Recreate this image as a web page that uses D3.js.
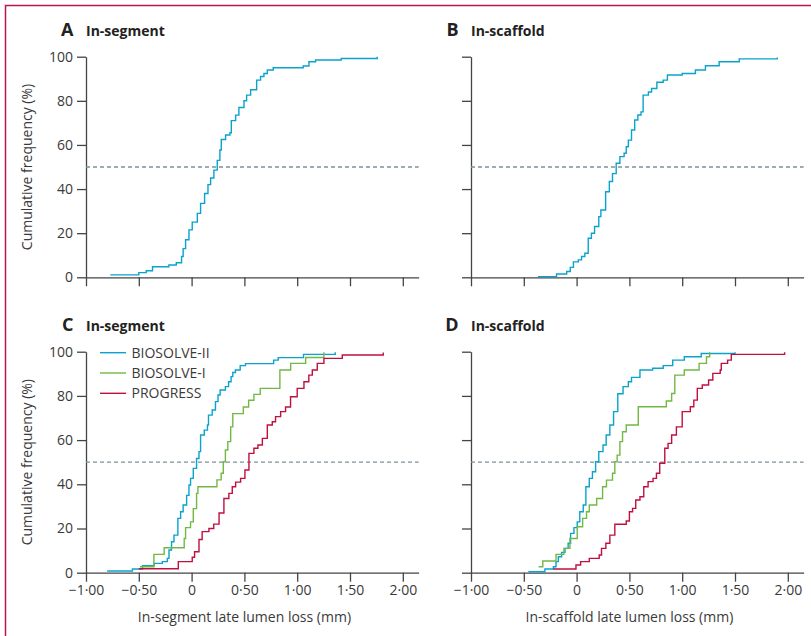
<!DOCTYPE html>
<html>
<head>
<meta charset="utf-8">
<script src="https://cdnjs.cloudflare.com/ajax/libs/d3/7.8.5/d3.min.js"></script>
<style>
  body { margin: 0; background: #fff; }
  svg text { font-family: "Open Sans", sans-serif; fill: #3a3a3a; }
</style>
</head>
<body>
<svg width="811" height="636"></svg>
<script>
// cumulative frequency curves: [late lumen loss (mm), cumulative %]
const aSegBiosolve2 = [[-0.77,1.1],[-0.50,2.1],[-0.43,3.0],[-0.37,4.8],[-0.215,5.6],[-0.145,6.6],[-0.095,9.4],[-0.08,13],[-0.057,17],[-0.025,21.5],[0.006,25],[0.054,29],[0.085,33.5],[0.123,38],[0.155,42],[0.18,45],[0.211,48.6],[0.243,53],[0.268,57.7],[0.281,62.5],[0.322,64.5],[0.363,65.5],[0.376,71],[0.417,73.5],[0.448,77],[0.496,80],[0.521,82.6],[0.559,85],[0.616,89.4],[0.653,91],[0.685,92.4],[0.717,94],[0.773,95],[1.057,95.8],[1.111,97.7],[1.174,98.5],[1.417,99.2],[1.758,100]];
const bScafBiosolve2 = [[-0.366,0.3],[-0.19,1.5],[-0.094,2.6],[-0.06,4.5],[-0.03,7],[0.016,7.9],[0.047,9.4],[0.078,10.9],[0.11,17.7],[0.14,20],[0.17,23],[0.21,27.5],[0.23,30.5],[0.275,38.8],[0.31,43.4],[0.34,47],[0.375,51.7],[0.41,54.7],[0.45,56.2],[0.47,59.2],[0.49,62.2],[0.52,66.8],[0.55,71.3],[0.58,73.6],[0.61,75],[0.63,82.6],[0.68,84],[0.71,85.6],[0.76,88.4],[0.82,89.4],[0.86,91.7],[1.0,92.4],[1.125,94],[1.22,95.9],[1.35,97.7],[1.54,99],[1.9,99.6]];
const cSegBiosolve2 = [[-0.80,0.8],[-0.56,1.7],[-0.465,3.2],[-0.355,4.2],[-0.277,5],[-0.23,6.5],[-0.214,10.3],[-0.19,14],[-0.167,17],[-0.13,24.6],[-0.104,27.6],[-0.08,30.6],[-0.047,35],[-0.025,39.7],[-0.01,42.7],[0.016,47.2],[0.047,51.7],[0.07,54.8],[0.085,62.3],[0.12,64.5],[0.15,66.8],[0.16,71.3],[0.195,73.6],[0.226,77.4],[0.25,80.4],[0.27,82.7],[0.32,84.2],[0.35,86.4],[0.374,88.7],[0.39,90.6],[0.415,91.7],[0.46,93.7],[0.51,94.6],[0.777,96.2],[0.82,97.3],[1.06,98.8],[1.36,99.7]];
const cSegBiosolve1 = [[-0.49,2.7],[-0.357,8.3],[-0.26,11.3],[-0.07,15.5],[-0.057,20.4],[-0.01,23],[0.016,29],[0.047,35.9],[0.06,38.9],[0.24,42],[0.28,45],[0.3,50.2],[0.32,55.5],[0.343,59.3],[0.37,66],[0.39,72],[0.49,75],[0.54,78],[0.59,80.7],[0.65,83.4],[0.836,91.7],[0.938,94.7],[1.08,97.4],[1.253,99.7]];
const cSegProgress = [[-0.5,1.8],[-0.126,5],[0.006,7],[0.028,9.5],[0.07,15],[0.1,18.6],[0.164,20],[0.21,22],[0.26,27],[0.306,33.6],[0.353,35.9],[0.385,38.9],[0.417,41],[0.464,42.7],[0.505,46.5],[0.543,54],[0.59,56.3],[0.628,57.8],[0.67,60.8],[0.717,66.8],[0.764,68.3],[0.795,70.6],[0.843,72.9],[0.89,75],[0.937,79.6],[1.0,83.4],[1.064,86.4],[1.11,89.4],[1.143,91.7],[1.19,94.7],[1.253,97],[1.427,98.5],[1.815,99.6]];
const dScafBiosolve2 = [[-0.457,0.45],[-0.3,1.7],[-0.22,2.7],[-0.195,5],[-0.173,7.2],[-0.142,9.2],[-0.11,11],[-0.08,13.3],[-0.057,17.8],[-0.025,20.4],[0.006,23],[0.03,27.6],[0.063,30.6],[0.088,38.9],[0.12,42.7],[0.15,45.7],[0.18,50.2],[0.21,54.8],[0.25,57.8],[0.28,62.3],[0.315,66.8],[0.35,72.9],[0.39,81],[0.44,84.2],[0.49,86.4],[0.52,88.4],[0.6,91.7],[0.72,92.5],[0.82,93.7],[0.91,96.2],[1.02,97.7],[1.18,99.2],[1.5,99.7]];
const dScafBiosolve1 = [[-0.36,2.7],[-0.32,5.3],[-0.195,8.3],[-0.12,11],[-0.063,15.5],[0.006,20.8],[0.057,24.6],[0.094,27.6],[0.12,30.6],[0.19,33.6],[0.246,38.9],[0.283,41.9],[0.34,45],[0.362,50.2],[0.384,53.2],[0.41,59.3],[0.435,63.8],[0.47,66.8],[0.584,75.1],[0.85,77.7],[0.9,81.1],[0.93,89.4],[1.02,91.7],[1.16,94.7],[1.23,97.7],[1.26,99.7]];
const dScafProgress = [[-0.22,1.7],[-0.006,3.5],[0.038,5],[0.12,6.5],[0.214,8],[0.236,11],[0.277,13.3],[0.315,17],[0.362,21.9],[0.47,23.4],[0.5,27.6],[0.53,29.1],[0.56,32.9],[0.6,34.4],[0.636,38.9],[0.677,41.2],[0.724,42.7],[0.756,45],[0.787,49.5],[0.835,56.3],[0.866,58.5],[0.9,62.3],[0.945,66],[1.0,72.9],[1.077,75.1],[1.11,78.1],[1.143,83.4],[1.19,84.9],[1.25,87.2],[1.29,90.2],[1.36,91.7],[1.37,94.7],[1.43,96.2],[1.465,98.8],[1.97,99.7]];

const seriesNames = ['BIOSOLVE-II', 'BIOSOLVE-I', 'PROGRESS'];
const seriesColors = ['#0aa3cc', '#72b844', '#c0103f'];
const xTicks = [-1, -0.5, 0, 0.5, 1, 1.5, 2];
const yTicks = [0, 20, 40, 60, 80, 100];

const svg = d3.select('svg');

// thin red frame (top + left) from the journal page
svg.append('path')
    .attr('d', 'M5.5,636V5.5H811')
    .attr('fill', 'none')
    .attr('stroke', '#b8184a')
    .attr('stroke-width', 1.5);

// lancet style numbers: middle dot decimals
const fmtX = d => d === 0 ? '0' : (d < 0 ? '\u2212' : '') + Math.abs(d).toFixed(2).replace('.', '\u00b7');

const drawPanel = (p) => {
    const x = d3.scaleLinear().domain([-1, 2.15]).range([p.left, p.left + 3.15 * 105.6]);
    const y = d3.scaleLinear().domain([0, 100]).range([p.bottom, p.top]);
    const g = svg.append('g');

    // panel heading
    g.append('text').attr('x', p.left - 12.5).attr('y', p.top - 21)
        .attr('text-anchor', 'end')
        .style('font-size', '18px').style('font-weight', 700).style('fill', '#222')
        .text(p.letter);
    g.append('text').attr('x', p.left).attr('y', p.top - 21)
        .style('font-size', '14px').style('font-weight', 700).style('fill', '#222')
        .text(p.title);

    // axes
    const yAxis = g.append('g')
        .attr('transform', `translate(${p.left},0)`)
        .call(d3.axisLeft(y).tickValues(yTicks).tickSize(9).tickSizeOuter(0).tickPadding(4)
            .tickFormat(p.yLabels ? d3.format('d') : ''));
    const xAxis = g.append('g')
        .attr('transform', `translate(0,${p.bottom})`)
        .call(d3.axisBottom(x).tickValues(xTicks).tickSize(9).tickSizeOuter(0).tickPadding(3)
            .tickFormat(p.xLabels ? fmtX : ''));
    [yAxis, xAxis].forEach(a => {
        a.selectAll('path, line').attr('stroke', '#444').attr('stroke-width', 1.3);
        a.selectAll('text').style('font-size', '14px').style('fill', '#3a3a3a').attr('font-family', null);
    });

    // 50% reference
    g.append('line')
        .attr('x1', x(-1)).attr('x2', x(2.15))
        .attr('y1', y(50)).attr('y2', y(50))
        .attr('stroke', '#7d9199').attr('stroke-width', 1.3)
        .attr('stroke-dasharray', '4,3');

    const line = d3.line().curve(d3.curveStepAfter)
        .x(d => x(d[0])).y(d => y(d[1]));
    p.series.forEach((s, i) => {
        g.append('path').datum(s)
            .attr('fill', 'none')
            .attr('stroke', seriesColors[i])
            .attr('stroke-width', 1.4)
            .attr('d', line);
    });

    if (p.yLabels) {
        g.append('text')
            .attr('transform', `translate(${p.left - 54},${(p.top + p.bottom) / 2}) rotate(-90)`)
            .attr('text-anchor', 'middle')
            .style('font-size', '14px')
            .text('Cumulative frequency (%)');
    }
    if (p.xLabels) {
        g.append('text')
            .attr('x', x(0.5)).attr('y', 622)
            .attr('text-anchor', 'middle')
            .style('font-size', '14px')
            .text(p.axisTitle);
    }
    if (p.legend) {
        seriesNames.forEach((n, i) => {
            const ly = 352.7 + i * 20.3;
            g.append('line').attr('x1', 100).attr('x2', 126)
                .attr('y1', ly).attr('y2', ly)
                .attr('stroke', seriesColors[i]).attr('stroke-width', 1.4);
            g.append('text').attr('x', 131.5).attr('y', ly).attr('dy', '0.36em')
                .style('font-size', '14px').text(n);
        });
    }
};

drawPanel({ letter: 'A', title: 'In-segment', left: 86, top: 56.7, bottom: 277.3, yLabels: true, xLabels: false, series: [aSegBiosolve2] });
drawPanel({ letter: 'B', title: 'In-scaffold', left: 471, top: 56.7, bottom: 277.3, yLabels: false, xLabels: false, series: [bScafBiosolve2] });
drawPanel({ letter: 'C', title: 'In-segment', left: 86, top: 351.7, bottom: 572.7, yLabels: true, xLabels: true, legend: true,
    axisTitle: 'In-segment late lumen loss (mm)', series: [cSegBiosolve2, cSegBiosolve1, cSegProgress] });
drawPanel({ letter: 'D', title: 'In-scaffold', left: 471, top: 351.7, bottom: 572.7, yLabels: false, xLabels: true,
    axisTitle: 'In-scaffold late lumen loss (mm)', series: [dScafBiosolve2, dScafBiosolve1, dScafProgress] });
</script>
</body>
</html>
